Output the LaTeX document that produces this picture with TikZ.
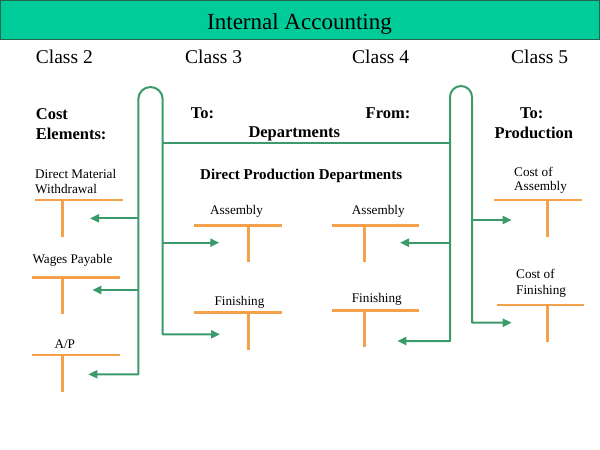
\documentclass[tikz,border=0pt]{standalone}
\usepackage{fontspec}
\setmainfont{Liberation Serif}
\usepackage{xcolor}
\usepackage{tikz}
\usetikzlibrary{calc,arrows.meta}
\definecolor{barfill}{HTML}{00CC99}
\definecolor{barline}{HTML}{22664F}
\definecolor{flowgreen}{HTML}{3A9A6A}
\definecolor{tacc}{HTML}{F5A04A}
\tikzset{
  bar/.style={fill=barfill, draw=barline, line width=1.2pt},
  flow/.style={draw=flowgreen, line width=2pt, line join=round},
  tip/.style={flow, -{Triangle[length=9pt,width=8pt]}},
  tips/.style={flow, {Triangle[length=9pt,width=8pt]}-{Triangle[length=9pt,width=8pt]}},
  tline/.style={draw=tacc, line width=2.5pt},
  ttl/.style={inner sep=0pt, anchor=base, font=\fontsize{23}{27}\selectfont},
  cls/.style={inner sep=0pt, anchor=base west, font=\fontsize{19.5}{23}\selectfont},
  hd/.style={inner sep=0pt, anchor=base west, font=\bfseries\fontsize{16.5}{20}\selectfont},
  hds/.style={inner sep=0pt, anchor=base west, font=\bfseries\fontsize{15}{18}\selectfont},
  lab/.style={inner sep=0pt, anchor=base west, font=\fontsize{13.2}{15}\selectfont},
}
\begin{document}
\begin{tikzpicture}[x=1pt,y=-1pt]
  \useasboundingbox (0,0) rectangle (600,450);
  % title bar
  \draw[bar] (0,0) rectangle (600,39.5);
  \node[ttl] (title) at (299.5,29.5) {Internal Accounting};
  \node[cls] (c2) at (35.7,63) {Class 2};
  \node[cls] (c3) at (185,63) {Class 3};
  \node[cls] (c4) at (352,63) {Class 4};
  \node[cls] (c5) at (511,63) {Class 5};
  \node[hd] (cost) at (35.7,119) {Cost};
  \node[hd] (elem) at (35.7,139) {Elements:};
  \node[hd] (to3) at (190.7,118.3) {To:};
  \node[hd] (from4) at (365.5,118.3) {From:};
  \node[hd] (dept) at (248.3,137.3) {Departments};
  \node[hd] (to5) at (520,118) {To:};
  \node[hd] (prod) at (494.3,138.3) {Production};
  \node[hds] (dpd) at (200,179) {Direct Production Departments};
  % T accounts: name/left/top/stem
  \foreach \n/\x/\y/\s in {dmw/35/200/62.3, wp/32.3/277.3/62.3, ap/32.3/355/62.3,
      asmA/194/225.3/248.3, finA/194/312.7/248.3, asmB/331.7/225.3/364.3,
      finB/331.7/310.3/364.3, costA/494.3/200/547.7, costF/496.7/305/547.7}{
    \coordinate (\n-l) at (\x,\y);
    \coordinate (\n-s) at (\s,\y);
    \draw[tline] (\n-l) -- ++(87.5,0) (\n-s) -- ++(0,37);
  }
  \node[lab] (dmw1) at (35,178.3) {Direct Material};
  \node[lab] (dmw2) at (35,193.3) {Withdrawal};
  \node[lab] (wpl) at (32.3,263.3) {Wages Payable};
  \node[lab] (apl) at (54.3,348.3) {A/P};
  \node[lab] (asmAl) at (210,214) {Assembly};
  \node[lab] (finAl) at (214.3,305) {Finishing};
  \node[lab] (asmBl) at (351.7,214) {Assembly};
  \node[lab] (finBl) at (351.7,302.7) {Finishing};
  \node[lab] (costA1) at (514,176) {Cost of};
  \node[lab] (costA2) at (514,190) {Assembly};
  \node[lab] (costF1) at (516,278.3) {Cost of};
  \node[lab] (costF2) at (516,294) {Finishing};
  % rails of the two loops and the arrow ends
  \coordinate (L1) at (138.3,99.2);
  \coordinate (L2) at (162.7,99.2);
  \coordinate (R1) at (450,97);
  \coordinate (R2) at (472,97);
  \coordinate (dep) at (0,143.3);
  \coordinate (dmw-in) at (90,218.3);
  \coordinate (wp-in) at (92.3,290);
  \coordinate (ap-in) at (88.3,374.3);
  \coordinate (asmA-in) at (219.3,242.7);
  \coordinate (finA-in) at (220,334.3);
  \coordinate (asmB-in) at (400,242.7);
  \coordinate (finB-in) at (397.3,341);
  \coordinate (costA-in) at (511.7,220);
  \coordinate (costF-in) at (511.7,322.7);
  % left loop
  \draw[tips] (ap-in) -- (ap-in -| L1) -- (L1) arc (180:360:12.2) -- (L2 |- finA-in) -- (finA-in);
  \draw[tip] (L1 |- dmw-in) -- (dmw-in);
  \draw[tip] (L1 |- wp-in) -- (wp-in);
  \draw[tip] (L2 |- asmA-in) -- (asmA-in);
  \draw[flow] (L2 |- dep) -- (R1 |- dep);
  % right loop
  \draw[tips] (finB-in) -- (finB-in -| R1) -- (R1) arc (180:360:11) -- (R2 |- costF-in) -- (costF-in);
  \draw[tip] (R1 |- asmB-in) -- (asmB-in);
  \draw[tip] (R2 |- costA-in) -- (costA-in);
\end{tikzpicture}
\end{document}
